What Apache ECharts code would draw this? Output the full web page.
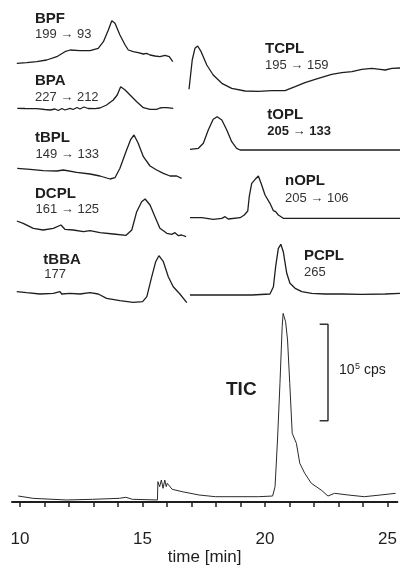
<!DOCTYPE html>
<html>
<head>
<meta charset="utf-8">
<script src="https://cdn.jsdelivr.net/npm/echarts@6/dist/echarts.min.js"></script>
<style>
  html, body { margin: 0; padding: 0; background: #fff; }
  #chart { width: 400px; height: 578px; }
</style>
</head>
<body>
<div id="chart"></div>
<script>
// Retention-time axis (minutes)
const timeMin = 9.676;
const timeMax = 25.40;
const tickMinutes = [10, 11, 12, 13, 14, 15, 16, 17, 18, 19, 20, 21, 22, 23, 24, 25];
const labelMinutes = [10, 15, 20, 25];

// Extracted-ion traces: [time (min), signal (arbitrary units)]
const bpf = [[9.87,0.7],[10.27,1.3],[10.68,2.3],[11.08,4],[11.49,7.3],[11.82,12.3],[12.03,14],[12.43,13.3],[12.84,13.3],[13.17,15.7],[13.38,22.3],[13.58,34],[13.72,43.3],[13.85,40.7],[14.05,29],[14.26,19],[14.39,14],[14.59,12.3],[14.79,11.3],[15.0,10],[15.13,10.6],[15.27,9],[15.47,8],[15.67,7.3],[15.88,8.7],[16.05,7.3],[16.19,2.3]];
const bpa = [[9.89,2.7],[10.2,2.5],[10.68,2.3],[11.01,1.5],[11.22,1],[11.42,2],[11.55,0.5],[11.70,2.5],[11.82,1],[12.03,2.7],[12.15,1.5],[12.31,3.5],[12.43,2],[12.59,4],[12.76,2.5],[12.84,3.7],[13.04,2.3],[13.24,3],[13.51,6],[13.78,11],[13.94,16],[14.08,24.3],[14.26,21],[14.46,16],[14.73,9.3],[15.0,3.3],[15.27,1.7],[15.54,1.7],[15.67,3],[15.78,3.3],[15.95,3.3],[16.21,2.7]];
const tbpl = [[9.89,11.7],[10.41,10.7],[10.94,9.3],[11.49,9],[11.76,10],[12.30,7.7],[12.84,6],[13.24,4],[13.65,1],[13.85,2.3],[14.05,11.7],[14.32,30],[14.49,40.7],[14.62,45],[14.79,36.7],[15.0,23.3],[15.27,14],[15.54,10],[15.81,6.7],[16.08,4],[16.35,4],[16.55,1.7]];
const dcpl = [[9.87,17],[10.13,14.7],[10.54,9.7],[10.94,8],[11.35,9.7],[11.66,13],[11.73,14.7],[11.82,8.7],[12.16,8],[12.57,6.3],[12.84,7.3],[13.24,5.3],[13.78,4],[14.30,2.7],[14.53,8],[14.73,26.3],[14.93,36.3],[15.07,39],[15.27,33],[15.47,21.3],[15.67,9.7],[15.95,4.7],[16.15,3.7],[16.28,5.3],[16.42,2.3],[16.55,3],[16.73,1.3]];
const tbba = [[9.87,12.3],[10.27,11.3],[10.81,10],[11.35,10.7],[11.62,12.3],[11.69,10],[12.03,10.7],[12.43,10],[12.84,11.3],[13.17,10],[13.51,5.7],[14.05,3.3],[14.59,1.7],[14.97,2.3],[15.14,7.3],[15.34,27.3],[15.50,42.3],[15.63,48.3],[15.81,42.3],[16.01,27.3],[16.21,17.3],[16.48,10],[16.76,1.3]];
const tcpl = [[16.85,2.7],[16.98,32],[17.09,43.7],[17.20,46],[17.34,40.3],[17.57,27],[17.83,17],[18.18,8.7],[18.58,3.7],[19.12,1],[19.66,0.7],[20.20,1.3],[20.74,1.3],[21.15,5.3],[21.55,9.3],[22.09,13.7],[22.63,17.7],[23.04,19.3],[23.45,20.3],[23.85,22.7],[24.26,23.7],[24.59,22.7],[24.80,22],[25.07,23.7],[25.40,24]];
const topl = [[16.89,1.7],[17.23,2.7],[17.43,7.7],[17.63,21],[17.83,31.7],[17.99,34.3],[18.18,31],[18.38,21],[18.58,9.3],[18.78,2.7],[18.92,1],[25.40,1]];
const nopl = [[16.89,3.3],[17.37,3.3],[17.83,1.7],[18.18,2.7],[18.31,4.3],[18.44,2],[18.92,3.3],[19.09,6],[19.23,10],[19.29,24.3],[19.39,37.7],[19.53,41.7],[19.66,45],[19.77,37.7],[19.93,26],[20.13,17.7],[20.27,10.3],[20.36,9.3],[20.47,6],[20.67,2.7],[25.40,2.7]];
const pcpl = [[16.89,2],[18.04,2],[19.39,2],[20.13,3],[20.27,10.3],[20.36,30.3],[20.47,48.7],[20.57,52.7],[20.67,45.3],[20.81,23.7],[20.94,13.7],[21.15,8.7],[21.42,5.3],[21.82,3.7],[22.36,3],[23.04,3],[23.85,2.7],[24.80,3],[25.40,3.7]];

// Total ion current: [time (min), signal (10^5 cps)]
const tic = [[9.93,0.062],[10.54,0.038],[11.89,0.021],[12.97,0.028],[14.05,0.038],[14.32,0.049],[14.59,0.028],[15.61,0.021],[15.63,0.211],[15.70,0.159],[15.77,0.228],[15.84,0.142],[15.91,0.228],[15.97,0.159],[16.01,0.194],[16.21,0.132],[16.62,0.107],[17.30,0.073],[17.97,0.055],[18.65,0.055],[19.73,0.055],[20.31,0.062],[20.41,0.159],[20.51,0.643],[20.61,1.231],[20.70,1.818],[20.74,1.957],[20.78,1.922],[20.84,1.870],[20.92,1.680],[21.01,1.231],[21.11,0.713],[21.28,0.609],[21.42,0.401],[21.62,0.298],[21.89,0.194],[22.29,0.124],[22.57,0.062],[22.84,0.090],[23.38,0.073],[24.05,0.055],[24.73,0.073],[25.33,0.090]];

// Scale bar for the TIC panel: one unit = 10^5 cps
const scaleBarTime = 22.57;
const scaleBarCapTime = 22.23;
const scaleBarBase = 0.843;
const scaleBarSize = 1;

// Panel layout (pixels)
const panels = [
  { data: bpf,  top: 20,  height: 44 },
  { data: bpa,  top: 86,  height: 25 },
  { data: tbpl, top: 134, height: 46 },
  { data: dcpl, top: 198, height: 40 },
  { data: tbba, top: 255, height: 49 },
  { data: tcpl, top: 45,  height: 47 },
  { data: topl, top: 116, height: 35 },
  { data: nopl, top: 175, height: 46 },
  { data: pcpl, top: 243, height: 54 }
];
const ticPanel = { top: 309.2, height: 192.8, max: 2 };

const FONT = '"Liberation Sans", Arial, Helvetica, sans-serif';
const ink = '#1e1e1e';

const grids = [], xAxes = [], yAxes = [], series = [];

panels.forEach((p, i) => {
  grids.push({ left: 12, right: 0, top: p.top, height: p.height });
  xAxes.push({ type: 'value', gridIndex: i, min: timeMin, max: timeMax, show: false });
  yAxes.push({ type: 'value', gridIndex: i, min: 0, max: p.height, show: false });
  series.push({
    type: 'line', xAxisIndex: i, yAxisIndex: i, data: p.data,
    showSymbol: false, silent: true, animation: false,
    lineStyle: { color: ink, width: 1.3 }
  });
});

const ti = panels.length;
grids.push({ left: 12, right: 0, top: ticPanel.top, height: ticPanel.height });
xAxes.push({
  type: 'value', gridIndex: ti, min: timeMin, max: timeMax,
  offset: 23,
  axisLine: { show: true, lineStyle: { color: ink, width: 2 } },
  axisTick: { show: true, length: 5, customValues: tickMinutes, lineStyle: { color: ink, width: 1.5 } },
  axisLabel: { customValues: labelMinutes, fontSize: 17, color: ink, fontFamily: FONT, margin: 6 },
  splitLine: { show: false },
  name: 'time [min]', nameLocation: 'middle', nameGap: 24,
  nameTextStyle: { fontSize: 17, color: ink, fontFamily: FONT }
});
yAxes.push({ type: 'value', gridIndex: ti, min: 0, max: ticPanel.max, show: false });
series.push({
  type: 'line', xAxisIndex: ti, yAxisIndex: ti, data: tic,
  showSymbol: false, silent: true, animation: false,
  lineStyle: { color: '#2a2a2a', width: 1 }
});
series.push({
  type: 'line', xAxisIndex: ti, yAxisIndex: ti,
  data: [
    [scaleBarCapTime, scaleBarBase],
    [scaleBarTime, scaleBarBase],
    [scaleBarTime, scaleBarBase + scaleBarSize],
    [scaleBarCapTime, scaleBarBase + scaleBarSize]
  ],
  showSymbol: false, silent: true, animation: false,
  lineStyle: { color: '#333', width: 1.5 }
});

function txt(text, x, y, size, bold, color) {
  return {
    type: 'text', silent: true,
    style: {
      text: text, x: x, y: y, fill: color || ink,
      font: (bold ? 'bold ' : '') + size + 'px ' + FONT,
      verticalAlign: 'middle', align: 'left'
    }
  };
}

const graphics = [
  txt('BPF', 35, 18.7, 15, true),
  txt('199 \u2192 93', 35, 34.7, 13, false, '#333'),
  txt('BPA', 35, 81.3, 15, true),
  txt('227 \u2192 212', 35, 97.7, 13, false, '#333'),
  txt('tBPL', 35, 138, 15, true),
  txt('149 \u2192 133', 35.5, 154.2, 13, false, '#333'),
  txt('DCPL', 35, 193.8, 15, true),
  txt('161 \u2192 125', 35.5, 209.5, 13, false, '#333'),
  txt('tBBA', 43.3, 260.3, 15, true),
  txt('177', 44.3, 274.5, 13, false, '#333'),
  txt('TCPL', 265, 48.7, 15, true),
  txt('195 \u2192 159', 265, 65.5, 13, false, '#333'),
  txt('tOPL', 267.3, 114.7, 15, true),
  txt('205 \u2192 133', 267.3, 131, 13, true),
  txt('nOPL', 285, 180.8, 15, true),
  txt('205 \u2192 106', 285, 198, 13, false, '#333'),
  txt('PCPL', 304, 255.8, 15, true),
  txt('265', 304, 272.8, 13, false, '#333'),
  txt('TIC', 226, 389.7, 19, true),
  txt('10', 339, 370.5, 14, false),
  txt('5', 355, 366.5, 9, false),
  txt('cps', 364, 370.5, 14, false)
];

const chart = echarts.init(document.getElementById('chart'), null, { renderer: 'canvas' });
chart.setOption({
  backgroundColor: '#fff',
  animation: false,
  grid: grids,
  xAxis: xAxes,
  yAxis: yAxes,
  series: series,
  graphic: graphics
});
</script>
</body>
</html>
